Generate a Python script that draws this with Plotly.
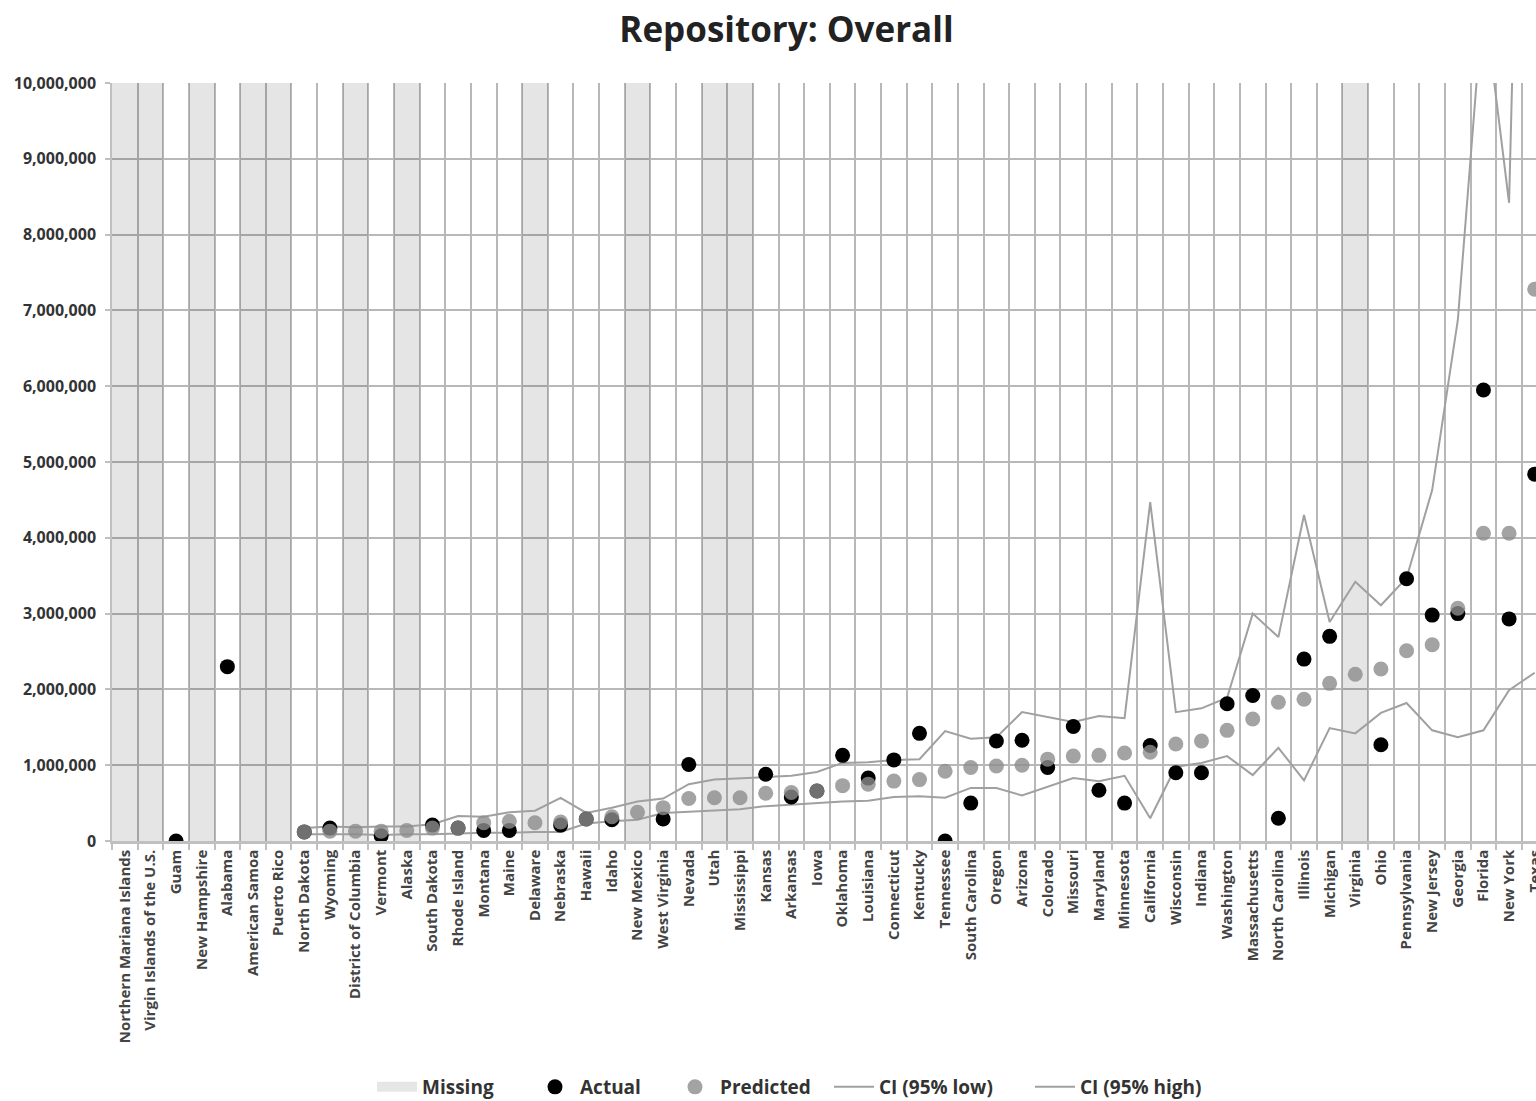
import plotly.graph_objects as go

categories = [
    "Northern Mariana Islands", "Virgin Islands of the U.S.", "Guam", "New Hampshire",
    "Alabama", "American Samoa", "Puerto Rico", "North Dakota", "Wyoming",
    "District of Columbia", "Vermont", "Alaska", "South Dakota", "Rhode Island",
    "Montana", "Maine", "Delaware", "Nebraska", "Hawaii", "Idaho", "New Mexico",
    "West Virginia", "Nevada", "Utah", "Mississippi", "Kansas", "Arkansas", "Iowa",
    "Oklahoma", "Louisiana", "Connecticut", "Kentucky", "Tennessee", "South Carolina",
    "Oregon", "Arizona", "Colorado", "Missouri", "Maryland", "Minnesota", "California",
    "Wisconsin", "Indiana", "Washington", "Massachusetts", "North Carolina", "Illinois",
    "Michigan", "Virginia", "Ohio", "Pennsylvania", "New Jersey", "Georgia", "Florida",
    "New York", "Texas",
]

missing = [
    10000000, 10000000, None, 10000000, None, 10000000, 10000000, None, None,
    10000000, None, 10000000, None, None, None, None, 10000000, None, None, None,
    10000000, None, None, 10000000, 10000000, None, None, None, None, None, None,
    None, None, None, None, None, None, None, None, None, None, None, None, None,
    None, None, None, None, 10000000, None, None, None, None, None, None, None,
]

actual = [
    None, None, 0, None, 2300000, None, None, 120000, 170000, None, 70000, None,
    210000, 170000, 140000, 140000, None, 210000, 290000, 280000, None, 290000,
    1010000, None, None, 880000, 580000, 660000, 1130000, 830000, 1070000, 1420000,
    0, 500000, 1320000, 1330000, 970000, 1510000, 670000, 500000, 1260000, 900000,
    900000, 1810000, 1920000, 300000, 2400000, 2700000, None, 1270000, 3460000,
    2980000, 3000000, 5950000, 2930000, 4840000,
]

predicted = [
    None, None, None, None, None, None, None, 120000, 130000, 130000, 130000, 140000,
    170000, 170000, 240000, 260000, 240000, 250000, 290000, 320000, 380000, 440000,
    560000, 570000, 570000, 630000, 640000, 660000, 730000, 750000, 790000, 810000,
    920000, 970000, 990000, 1000000, 1080000, 1120000, 1130000, 1160000, 1170000,
    1280000, 1320000, 1460000, 1610000, 1830000, 1870000, 2080000, 2200000, 2270000,
    2510000, 2590000, 3070000, 4060000, 4060000, 7280000,
]

ci_low = [
    None, None, None, None, None, None, None, 90000, 90000, 90000, 80000, 90000,
    90000, 100000, 110000, 110000, 120000, 120000, 230000, 260000, 280000, 370000,
    390000, 410000, 420000, 460000, 480000, 500000, 520000, 530000, 580000, 590000,
    570000, 700000, 700000, 600000, 720000, 830000, 790000, 860000, 300000, 980000,
    1030000, 1120000, 870000, 1230000, 800000, 1490000, 1420000, 1690000, 1820000,
    1460000, 1370000, 1460000, 1990000, 2220000,
]

ci_high = [
    None, None, None, None, None, None, None, 170000, 190000, 180000, 190000, 190000,
    220000, 330000, 320000, 380000, 400000, 570000, 370000, 440000, 520000, 560000,
    750000, 810000, 830000, 850000, 860000, 910000, 1030000, 1040000, 1070000,
    1080000, 1450000, 1350000, 1370000, 1700000, 1640000, 1570000, 1650000, 1620000,
    4470000, 1700000, 1750000, 1890000, 3000000, 2690000, 4300000, 2890000, 3420000,
    3110000, 3470000, 4630000, 6870000, 11160000, 8420000, 21900000,
]

y_ticks = [0, 1000000, 2000000, 3000000, 4000000, 5000000, 6000000, 7000000,
           8000000, 9000000, 10000000]

FONT = "Open Sans, Lato, sans-serif"
GRID = "#b8b8b8"
LINE_C = "#a0a0a0"
MISSING_C = "rgba(0,0,0,0.10)"

fig = go.Figure()

fig.add_trace(go.Bar(
    x=categories, y=missing, name="Missing", width=1,
    marker=dict(color=MISSING_C, line=dict(width=0)),
    showlegend=False,
))
fig.add_trace(go.Scatter(
    x=categories, y=ci_low, name="CI (95% low)", mode="lines",
    line=dict(color=LINE_C, width=2), connectgaps=False,
    legendrank=4, legendwidth=146,
))
fig.add_trace(go.Scatter(
    x=categories, y=ci_high, name="CI (95% high)", mode="lines",
    line=dict(color=LINE_C, width=2), connectgaps=False,
    legendrank=5, legendwidth=126,
))
fig.add_trace(go.Scatter(
    x=categories, y=actual, name="Actual", mode="markers",
    marker=dict(color="black", size=15, line=dict(width=0)),
    legendrank=2, legendwidth=85,
))
fig.add_trace(go.Scatter(
    x=categories, y=predicted, name="Predicted", mode="markers",
    marker=dict(color="rgb(140,140,140)", size=15, opacity=0.8, line=dict(width=0)),
    legendrank=3, legendwidth=104,
))
# legend key for the "Missing" band series (wide light-grey swatch)
fig.add_trace(go.Scatter(
    x=[None], y=[None], name="Missing", mode="lines",
    line=dict(color="#e6e6e6", width=15), hoverinfo="skip",
    legendrank=1, legendwidth=103,
))

fig.update_layout(
    width=1536, height=1101,
    margin=dict(l=112, r=0, t=83, b=260, autoexpand=False),
    paper_bgcolor="white", plot_bgcolor="white",
    title=dict(text="Repository: Overall", x=0.512, xanchor="center", y=0.973,
               yanchor="middle",
               font=dict(family=FONT, size=35, color="#222222", weight="bold")),
    showlegend=True,
    legend=dict(orientation="h", x=(372 - 112) / 1424, xanchor="left",
                yref="container", y=1 - 1087 / 1101, yanchor="middle",
                font=dict(family=FONT, size=19, color="#333333", weight="bold"),
                itemwidth=40, traceorder="normal"),
    bargap=0,
)

fig.update_xaxes(
    type="category", range=[-0.5, 55.05], tickson="boundaries",
    showgrid=True, gridcolor=GRID, gridwidth=1.5,
    showline=True, linecolor="#c0c0c0", linewidth=2.5,
    ticks="outside", ticklen=6, tickcolor="#c0c0c0", tickwidth=1.5,
    tickangle=-90,
    tickfont=dict(family=FONT, size=15, color="#444444", weight="bold"),
    fixedrange=True,
)
fig.update_yaxes(
    range=[0, 10000000], tickvals=y_ticks, tickformat=",",
    showgrid=True, gridcolor=GRID, gridwidth=1.5, zeroline=False,
    showline=True, linecolor="#c0c0c0", linewidth=1.5,
    ticks="outside", ticklen=5, tickcolor="#c0c0c0", tickwidth=1.5,
    ticklabelstandoff=6,
    tickfont=dict(family=FONT, size=16, color="#333333", weight="bold"),
    fixedrange=True,
)

page_css = (
    "document.body.style.margin='0';document.body.style.overflow='hidden';"
    "document.documentElement.style.overflow='hidden';"
)

fig.write_html("out.html", config={"displayModeBar": False}, post_script=page_css)
